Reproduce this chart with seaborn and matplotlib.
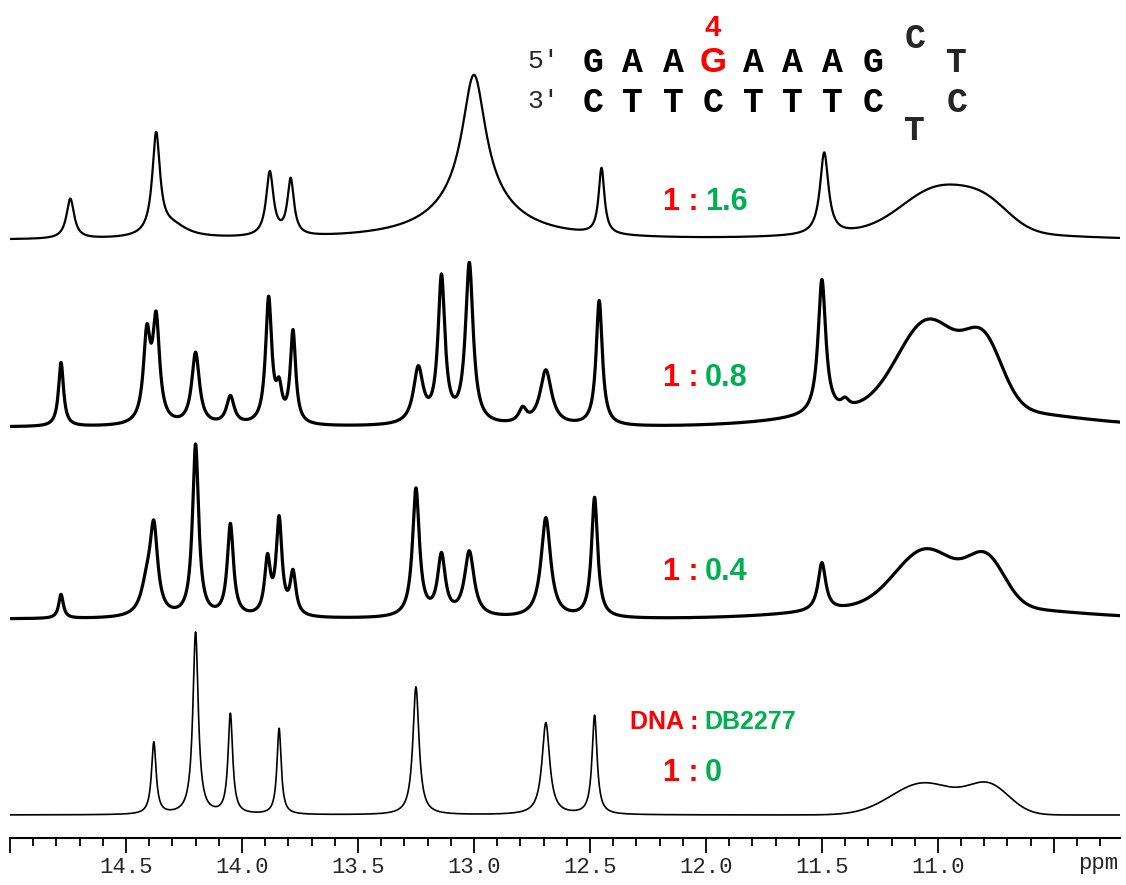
import numpy as np
import pandas as pd
import matplotlib
matplotlib.use("Agg")
import matplotlib.pyplot as plt
from matplotlib.ticker import MultipleLocator
import seaborn as sns

# ---------------- data ----------------
ratio_labels = ["1 : 1.6", "1 : 0.8", "1 : 0.4", "1 : 0"]
ligand_ratio = ["1.6", "0.8", "0.4", "0"]

# sharp imino peaks: centre (ppm), amplitude, half width (ppm)
pk_16_c = [14.74, 14.37, 14.30, 13.88, 13.79, 13.00, 13.00, 12.45, 11.49]
pk_16_h = [40, 100, 12, 64, 56, 125, 40, 66, 82]
pk_16_w = [0.02, 0.02, 0.08, 0.019, 0.017, 0.06, 0.2, 0.015, 0.022]
# broad humps: centre (ppm), amplitude, sigma (ppm)
hump_16_c = [10.99, 10.78, 11.0]
hump_16_h = [44, 18, 8]
hump_16_s = [0.16, 0.1, 0.45]

pk_08_c = [14.78, 14.41, 14.37, 14.20, 14.05, 13.885, 13.84, 13.78, 13.24, 13.14, 13.02, 12.79, 12.69, 12.46, 11.50, 11.40]
pk_08_h = [64, 85, 100, 72, 28, 125, 30, 92, 55, 145, 160, 14, 55, 125, 135, 8]
pk_08_w = [0.013, 0.018, 0.018, 0.02, 0.02, 0.016, 0.015, 0.014, 0.025, 0.018, 0.02, 0.02, 0.03, 0.016, 0.02, 0.02]
hump_08_c = [11.04, 10.80, 11.0]
hump_08_h = [85, 60, 22]
hump_08_s = [0.13, 0.08, 0.45]

pk_04_c = [14.78, 14.41, 14.38, 14.20, 14.05, 13.89, 13.84, 13.78, 13.25, 13.14, 13.02, 12.69, 12.48, 11.50]
pk_04_h = [24, 28, 83, 172, 92, 55, 95, 42, 128, 60, 65, 100, 120, 48]
pk_04_w = [0.012, 0.03, 0.02, 0.016, 0.016, 0.015, 0.015, 0.015, 0.018, 0.02, 0.025, 0.025, 0.016, 0.02]
hump_04_c = [11.05, 10.79, 11.0]
hump_04_h = [55, 45, 15]
hump_04_s = [0.13, 0.08, 0.45]

pk_00_c = [14.38, 14.20, 14.05, 13.84, 13.25, 12.69, 12.48]
pk_00_h = [72, 182, 100, 86, 128, 92, 99]
pk_00_w = [0.012, 0.014, 0.012, 0.011, 0.016, 0.02, 0.013]
hump_00_c = [11.06, 10.78]
hump_00_h = [32, 28]
hump_00_s = [0.14, 0.09]

# hairpin sequence
strand5 = list("GAAGAAAG")
strand3 = list("CTTCTTTC")
loop_top, loop_end5, loop_bottom, loop_end3 = "C", "T", "T", "C"
highlight_pos = 4

# ---------------- build spectra ----------------
ppm = np.linspace(15.0, 10.2, 5000)


def spectrum(c, h, w, hc, hh, hs):
    y = np.zeros_like(ppm)
    for ci, hi, wi in zip(c, h, w):
        y += hi * wi ** 2 / ((ppm - ci) ** 2 + wi ** 2)
    for ci, hi, si in zip(hc, hh, hs):
        y += hi * np.exp(-((ppm - ci) ** 2) / (2 * si ** 2))
    return y


traces = [
    spectrum(pk_16_c, pk_16_h, pk_16_w, hump_16_c, hump_16_h, hump_16_s),
    spectrum(pk_08_c, pk_08_h, pk_08_w, hump_08_c, hump_08_h, hump_08_s),
    spectrum(pk_04_c, pk_04_h, pk_04_w, hump_04_c, hump_04_h, hump_04_s),
    spectrum(pk_00_c, pk_00_h, pk_00_w, hump_00_c, hump_00_h, hump_00_s),
]
offsets = [598, 411, 219, 23]
widths = [1.6, 2.3, 2.3, 1.2]

frames = []
for lab, tr, off in zip(ligand_ratio, traces, offsets):
    frames.append(pd.DataFrame({"ppm": ppm, "signal": tr + off, "ratio": lab}))
df = pd.concat(frames, ignore_index=True)

# ---------------- figure ----------------
sns.set_theme(style="white")
fig = plt.figure(figsize=(11.26, 8.85), dpi=100)
ax = fig.add_axes([10 / 1126, 47 / 885, 1110 / 1126, 838 / 885])

for lab, lw in zip(ligand_ratio, widths):
    sns.lineplot(data=df[df["ratio"] == lab], x="ppm", y="signal", ax=ax,
                 color="black", linewidth=lw, estimator=None, sort=False)

ax.set_xlim(15.0, 10.215)
ax.set_ylim(0, 838)
ax.set_xlabel("")
ax.set_ylabel("")
ax.set_yticks([])
for s in ["left", "right", "top"]:
    ax.spines[s].set_visible(False)
ax.spines["bottom"].set_color("black")
ax.spines["bottom"].set_linewidth(1.5)

major = [15.0, 14.5, 14.0, 13.5, 13.0, 12.5, 12.0, 11.5, 11.0, 10.5]
ax.set_xticks(major)
ax.set_xticklabels(["", "14.5", "14.0", "13.5", "13.0", "12.5", "12.0", "11.5", "11.0", ""],
                   family="Liberation Mono", fontsize=16)
ax.xaxis.set_minor_locator(MultipleLocator(0.1))
ax.tick_params(axis="x", which="major", direction="out", length=11, width=1.3,
               color="black", pad=3, bottom=True)
ax.tick_params(axis="x", which="minor", direction="out", length=6, width=1.3,
               color="black", bottom=True)
ax.text(10.31, -26, "ppm", family="Liberation Mono", fontsize=16, ha="center", va="center")

RED = "#ff0000"
GREEN = "#00b050"

# ratio labels
label_y = [636, 460, 266, 65]
for lab, ly, r in zip(ratio_labels, label_y, ligand_ratio):
    ax.text(12.03, ly, "1 :", color=RED, fontsize=22, fontweight="bold",
            family="Liberation Sans", ha="right", va="center")
    ax.text(12.005, ly, r, color=GREEN, fontsize=22, fontweight="bold",
            family="Liberation Sans", ha="left", va="center")
ax.text(12.03, 116, "DNA :", color=RED, fontsize=18, fontweight="bold",
        family="Liberation Sans", ha="right", va="center")
ax.text(12.005, 116, "DB2277", color=GREEN, fontsize=18, fontweight="bold",
        family="Liberation Sans", ha="left", va="center")

# hairpin sequence
seq_x = [12.487, 12.315, 12.142, 11.970, 11.797, 11.625, 11.453, 11.280]
for i, (a, b) in enumerate(zip(strand5, strand3)):
    col = RED if i + 1 == highlight_pos else "black"
    fam = "Liberation Sans" if i + 1 == highlight_pos else "Liberation Mono"
    ax.text(seq_x[i], 775, a, color=col, fontsize=25, fontweight="bold",
            family=fam, ha="center", va="center")
    ax.text(seq_x[i], 735, b, color="black", fontsize=25, fontweight="bold",
            family="Liberation Mono", ha="center", va="center")
ax.text(11.970, 810, str(highlight_pos), color=RED, fontsize=21, fontweight="bold",
        family="Liberation Sans", ha="center", va="center")
ax.text(12.70, 777, "5'", fontsize=19, family="Liberation Mono", ha="center", va="center")
ax.text(12.70, 737, "3'", fontsize=19, family="Liberation Mono", ha="center", va="center")
ax.text(11.099, 800, loop_top, fontsize=25, fontweight="bold", family="Liberation Mono",
        ha="center", va="center")
ax.text(10.918, 775, loop_end5, fontsize=25, fontweight="bold", family="Liberation Mono",
        ha="center", va="center")
ax.text(11.099, 708, loop_bottom, fontsize=25, fontweight="bold", family="Liberation Mono",
        ha="center", va="center")
ax.text(10.918, 735, loop_end3, fontsize=25, fontweight="bold", family="Liberation Mono",
        ha="center", va="center")

fig.savefig("out.png", dpi=100, facecolor="white")
